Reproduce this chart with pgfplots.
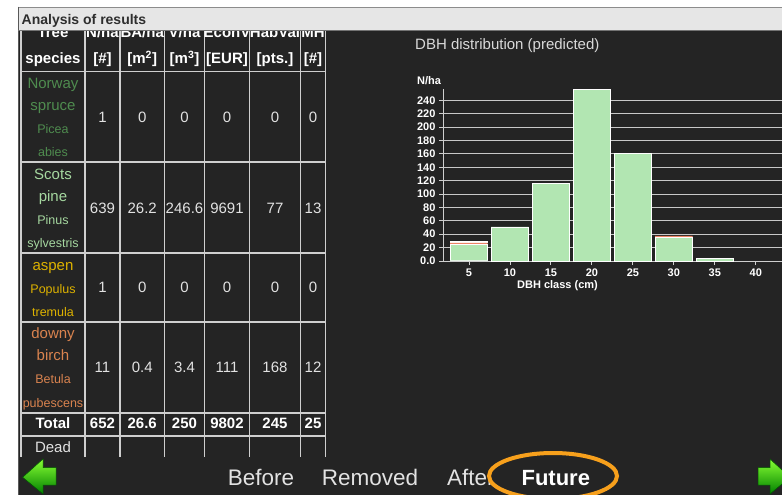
\documentclass[border=0pt]{standalone}
\usepackage{pgfplots}
\pgfplotsset{compat=1.18}
\usepackage{pgfplotstable}
\usepackage{fontspec}
\setmainfont{Liberation Sans}
\definecolor{panel}{HTML}{242424}
\definecolor{hdrbg}{HTML}{E6E6E6}
\definecolor{hdrtxt}{HTML}{2E2E2E}
\definecolor{tline}{HTML}{CFCFCF}
\definecolor{gridc}{HTML}{C8C8C8}
\definecolor{numc}{HTML}{E2E2E2}
\definecolor{spruceC}{HTML}{4F8C4F}
\definecolor{pineC}{HTML}{A6D8A0}
\definecolor{aspenC}{HTML}{DDB200}
\definecolor{birchC}{HTML}{D9834F}
\definecolor{barpine}{HTML}{B2E6B2}
\definecolor{barbirch}{HTML}{EC8466}
\definecolor{barsp}{HTML}{E4F4E4}
\definecolor{navorange}{HTML}{F7A01C}
\newcommand{\fs}[1]{\fontsize{#1}{#1}\selectfont}

\pgfplotstableread{
x   sp   pine   birch  oth
5   1.2  23.3   2.7    2.8
10  0    51.0   0      0
15  0    115.3  0      0
20  0    256.0  0      0
25  0    160.5  0      0
30  0    35.0   2.7    0
35  0    3.5    0      0
}\dbh

\begin{document}
\begin{tikzpicture}[
  tl/.style={draw=tline, line width=1.6pt},
  tc/.style={anchor=center, inner sep=0pt, text height=0.72em, text depth=0.21em, yshift=-3pt},
  nv/.style={anchor=center, inner sep=0pt, text height=0.72em, text depth=0.21em, yshift=-5pt},
]
\path[use as bounding box] (0pt,0pt) rectangle (782pt,-495pt);
\clip (0pt,0pt) rectangle (782pt,-495pt);
\begin{scope}[x=1pt,y=-1pt]
\fill[white] (0,0) rectangle (782,495);
\fill[panel] (18,7) rectangle (782,495);
\draw[line width=1pt, black!65] (18.5,7) -- (18.5,495);
% table grid
\foreach \xx in {21,85,120,164.5,204.5,249.5,300.5,325.5}
  \draw[tl] (\xx,30) -- (\xx,457);
\foreach \yy in {71.5,161.7,253,321.7,412.7,436}
  \draw[tl] (21,\yy) -- (325.5,\yy);
% header row line 1 (partly hidden under the title bar)
\foreach \cx/\t in {53/Tree,102.5/N\slash ha,142.2/BA\slash ha,184.5/V\slash ha,227/EconV,275/HabVal,313/MH}
  \node[anchor=base, inner sep=0pt, font=\fs{15}\bfseries, text=white] at (\cx,37.5) {\t};
% header row line 2
\node[tc, font=\fs{15}\bfseries, text=white] at (53,58.3) {species};
\node[tc, font=\fs{15}\bfseries, text=white] at (102.5,58.3) {[\#]};
\node[tc, font=\fs{15}\bfseries, text=white] at (142.2,58.3) {[m\textsuperscript{2}]};
\node[tc, font=\fs{15}\bfseries, text=white] at (184.5,58.3) {[m\textsuperscript{3}]};
\node[tc, font=\fs{15}\bfseries, text=white] at (227,58.3) {[EUR]};
\node[tc, font=\fs{15}\bfseries, text=white] at (275,58.3) {[pts.]};
\node[tc, font=\fs{15}\bfseries, text=white] at (313,58.3) {[\#]};
% species names
\node[tc, font=\fs{15}, text=spruceC] at (53,82.7) {Norway};
\node[tc, font=\fs{15}, text=spruceC] at (53,105) {spruce};
\node[tc, font=\fs{12.5}, text=spruceC] at (53,127.7) {Picea};
\node[tc, font=\fs{12.5}, text=spruceC] at (53,150.7) {abies};
\node[tc, font=\fs{15}, text=pineC] at (53,174) {Scots};
\node[tc, font=\fs{15}, text=pineC] at (53,196) {pine};
\node[tc, font=\fs{12.5}, text=pineC] at (53,219) {Pinus};
\node[tc, font=\fs{12.5}, text=pineC] at (53,241.7) {sylvestris};
\node[tc, font=\fs{15}, text=aspenC] at (53,265) {aspen};
\node[tc, font=\fs{12.5}, text=aspenC] at (53,288.3) {Populus};
\node[tc, font=\fs{12.5}, text=aspenC] at (53,310.7) {tremula};
\node[tc, font=\fs{15}, text=birchC] at (53,333.3) {downy};
\node[tc, font=\fs{15}, text=birchC] at (53,355) {birch};
\node[tc, font=\fs{12.5}, text=birchC] at (53,378.3) {Betula};
\node[tc, font=\fs{12.5}, text=birchC] at (53,402.3) {pubescens};
\node[tc, font=\fs{15}\bfseries, text=white] at (53,423.3) {Total};
\node[tc, font=\fs{15}, text=numc] at (53,447.3) {Dead};
% numbers
\foreach \yy/\a/\b/\c/\d/\e/\f in {116.7/1/0/0/0/0/0, 207.7/639/26.2/246.6/9691/77/13, 286.7/1/0/0/0/0/0, 366.7/11/0.4/3.4/111/168/12}{
  \node[tc, font=\fs{15}, text=numc] at (102.5,\yy) {\a};
  \node[tc, font=\fs{15}, text=numc] at (142.2,\yy) {\b};
  \node[tc, font=\fs{15}, text=numc] at (184.5,\yy) {\c};
  \node[tc, font=\fs{15}, text=numc] at (227,\yy) {\d};
  \node[tc, font=\fs{15}, text=numc] at (275,\yy) {\e};
  \node[tc, font=\fs{15}, text=numc] at (313,\yy) {\f};
}
\foreach \cx/\v in {102.5/652,142.2/26.6,184.5/250,227/9802,275/245,313/25}
  \node[tc, font=\fs{15}\bfseries, text=white] at (\cx,423.3) {\v};
% header bar
\fill[hdrbg] (18,7) rectangle (782,30);
\draw[line width=1pt, black!45] (18,7.3) -- (782,7.3);
\draw[line width=1pt, black!65] (18.5,7) -- (18.5,30);
\draw[line width=0.8pt, black!55] (18,30.2) -- (782,30.2);
\node[anchor=west, inner sep=0pt, font=\fs{14}\bfseries, text=hdrtxt] at (21.5,21) {Analysis of results};
% bottom navigation
\fill[panel] (19,457) rectangle (782,495);
\node[nv, font=\fs{22.5}, text=numc] at (261,478) {Before};
\node[nv, font=\fs{22.5}, text=numc] at (370,478) {Removed};
\node[anchor=west, inner sep=0pt, text height=0.72em, text depth=0.21em, yshift=-5pt, font=\fs{22.5}, text=numc] at (447,478) {After};
\draw[navorange, line width=4pt, fill=panel] (553,476) ellipse [x radius=64, y radius=23];
\node[nv, font=\fs{22}\bfseries, text=white] at (555.8,478) {Future};
% arrows
\shade[top color=green!45!lime!80!white, bottom color=green!50!black, draw=green!35!black, line width=0.5pt]
  (22.7,477.3) -- (43,459) -- (43,467.7) -- (56,467.7) -- (56,485) -- (43,485) -- (43,494) -- cycle;
\shade[top color=green!45!lime!80!white, bottom color=green!50!black, draw=green!35!black, line width=0.5pt]
  (790,477.3) -- (770,459) -- (770,467.7) -- (758,467.7) -- (758,485) -- (770,485) -- (770,494) -- cycle;
\end{scope}

\begin{axis}[
  at={(443pt,-261pt)}, anchor=south west,
  scale only axis, width=339pt, height=171.8pt,
  xmin=1.83, xmax=43.2, ymin=0, ymax=256.5,
  ybar stacked, bar width=37.5pt,
  axis lines=left,
  axis line style={-, draw=tline, line width=1pt},
  xtick={5,10,...,40},
  ytick={0,20,...,240},
  yticklabels={0.0,20,40,60,80,100,120,140,160,180,200,220,240},
  ymajorgrids, grid style={draw=gridc, line width=1pt},
  tick align=outside, major tick length=4pt,
  tick style={draw=tline, line width=0.9pt},
  ticklabel style={font=\fs{11}\bfseries, text=white},
  /pgf/number format/assume math mode=true,
  title={DBH distribution (predicted)},
  every axis title shift=0pt,
  title style={at={(axis description cs:-0.0826,1.2515)}, anchor=west, inner sep=0pt, font=\fs{15}, text=black!15},
  xlabel={DBH class (cm)},
  every axis x label/.style={at={(axis description cs:0.3378,-0.1455)}, anchor=center, inner sep=0pt, font=\fs{11}\bfseries, text=white},
  ylabel={N/ha},
  every axis y label/.style={at={(axis description cs:-0.0767,1.048)}, anchor=west, inner sep=0pt, font=\fs{11}\bfseries, text=white},
]
\addplot[fill=barsp, draw=none] table[x=x, y=sp] {\dbh};
\addplot[fill=barpine, draw=white, line width=0.6pt] table[x=x, y=pine] {\dbh};
\addplot[fill=barbirch, draw=none] table[x=x, y=birch] {\dbh};
\addplot[fill=barpine, draw=white, line width=0.6pt] table[x=x, y=oth] {\dbh};
\end{axis}
\end{tikzpicture}
\end{document}
